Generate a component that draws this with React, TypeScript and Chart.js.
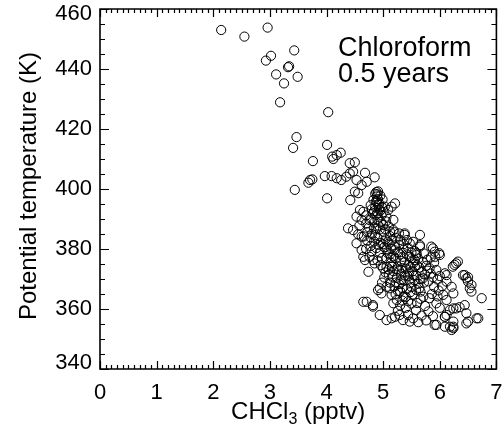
import { useEffect, useRef } from "react";
import { Chart, registerables } from "chart.js";

Chart.register(...registerables);

type P = [number, number];

const xRange = [0, 7];
const yRange = [340, 460];
const annotationLines = ["Chloroform", "0.5 years"];
const xTitleMain = "CHCl";
const xTitleSub = "3";
const xTitleTail = " (pptv)";
const yTitle = "Potential temperature (K)";

const upperPoints: P[] = [
  [2.14, 453.0], [2.55, 450.8], [2.96, 453.8], [3.02, 444.4], [2.93, 442.8], [3.43, 446.2],
  [3.32, 440.6], [3.34, 440.9], [3.11, 438.2], [3.49, 437.4], [3.25, 435.2], [3.18, 428.9],
  [4.03, 425.6], [3.47, 417.3], [3.41, 413.7], [3.44, 399.7], [4.01, 414.7], [4.10, 410.8],
  [4.18, 411.3], [4.25, 412.1], [4.12, 410.0], [3.76, 409.3], [3.71, 403.0], [3.75, 403.2],
  [3.68, 402.1], [3.97, 404.3], [4.09, 404.3], [4.18, 403.6], [4.26, 403.0], [4.35, 404.1],
  [4.41, 408.6], [4.50, 408.9], [4.41, 405.2], [4.47, 405.8], [4.53, 403.0], [4.68, 405.4],
  [4.71, 402.4], [4.85, 403.9], [4.62, 401.3], [4.01, 396.9], [4.42, 396.3],
];

const midPoints: P[] = [
  [4.50, 399.1], [4.56, 398.6], [4.88, 399.0], [4.90, 398.2], [4.89, 397.5], [4.91, 396.6],
  [4.87, 395.8], [4.92, 394.7], [4.86, 393.9], [4.95, 392.8], [4.80, 393.3], [4.59, 393.0],
  [4.65, 392.4], [4.53, 390.8], [4.62, 389.7], [4.38, 386.9], [4.47, 386.3], [4.79, 390.2],
  [4.82, 391.9], [5.03, 394.1], [5.09, 393.0], [5.06, 390.8], [5.18, 389.7], [5.18, 386.3],
  [5.38, 385.2], [5.15, 394.1], [5.21, 395.2], [4.70, 388.5], [4.75, 387.2], [4.84, 388.8],
  [4.90, 389.8], [4.97, 391.2], [5.00, 388.0], [4.94, 386.5], [4.72, 385.6], [4.66, 384.2],
  [4.80, 385.0], [4.88, 386.9], [5.10, 387.5], [5.02, 385.6], [5.12, 384.3], [4.58, 387.8],
  [4.56, 384.9], [4.99, 396.5], [5.01, 392.3], [4.83, 396.4], [4.78, 394.6],
  [4.91, 399.2], [4.89, 396.0], [4.93, 393.2], [4.88, 391.4], [4.96, 389.0], [5.04, 386.6],
  [4.95, 397.8], [4.86, 398.4], [4.93, 395.2], [4.84, 392.6], [4.98, 394.0], [4.90, 392.0],
  [5.05, 389.2], [4.76, 389.6], [4.70, 391.2], [4.92, 387.8], [5.12, 385.8], [4.84, 386.8],
];

const corePoints: P[] = [
  [4.62, 384.1], [4.53, 381.9], [4.62, 379.7], [4.65, 377.4], [4.68, 376.3], [4.74, 372.4],
  [4.76, 377.4], [4.82, 376.3], [4.85, 375.2], [5.00, 373.6], [4.72, 382.8], [4.78, 381.0],
  [4.84, 382.5], [4.90, 383.6], [4.96, 382.0], [5.04, 383.2], [4.70, 380.0], [4.80, 379.2],
  [4.88, 380.3], [4.94, 378.8], [5.02, 380.6], [5.10, 381.8], [5.16, 382.9], [5.22, 383.7],
  [5.28, 381.4], [5.20, 379.6], [5.12, 378.2], [5.06, 376.9], [4.98, 377.0], [4.90, 376.2],
  [4.96, 374.6], [5.06, 374.0], [5.14, 375.4], [5.22, 376.8], [5.30, 378.2], [5.36, 379.8],
  [5.35, 377.4], [5.26, 374.2], [5.18, 372.6], [5.10, 371.4], [5.02, 370.5], [5.24, 370.4],
  [5.32, 371.8], [5.40, 373.4], [5.47, 377.4], [5.50, 376.9], [5.59, 378.0], [5.56, 376.3],
  [5.53, 375.2], [5.59, 378.6], [5.45, 374.7], [5.52, 372.6], [5.44, 370.9], [5.36, 369.5],
  [5.28, 368.3], [5.20, 367.5], [5.58, 371.2], [5.64, 373.8], [5.70, 375.6], [5.78, 376.4],
  [5.66, 370.0], [5.74, 371.5], [5.82, 373.6], [5.94, 373.0], [6.09, 371.9], [5.65, 384.7],
  [5.38, 384.7], [5.53, 382.4], [5.65, 381.3], [5.88, 380.2], [5.99, 378.6], [5.47, 381.9],
  [5.65, 380.8], [5.85, 380.8], [6.00, 378.0], [5.91, 379.1], [5.42, 383.0], [5.56, 379.3],
  [5.72, 378.5], [5.84, 377.2], [5.90, 375.5], [5.80, 369.2], [5.88, 370.6], [5.96, 369.8],
  [5.62, 368.4], [5.50, 367.3], [5.42, 366.6], [5.12, 368.8], [5.06, 367.4], [5.30, 365.9],
  [5.08, 382.4], [5.14, 380.2], [5.18, 377.6], [5.26, 379.0], [5.32, 376.0], [5.24, 373.2],
  [5.38, 375.6], [5.46, 372.2], [5.34, 373.6], [5.16, 374.2], [5.08, 378.6], [5.00, 381.6],
  [4.86, 384.6], [4.92, 381.4], [5.28, 385.2], [5.20, 385.6], [5.44, 380.4], [5.50, 378.8],
  [5.56, 374.0], [5.62, 376.8], [5.68, 372.4], [5.76, 374.4], [5.72, 368.8], [5.84, 371.8],
  [5.55, 369.6], [5.48, 368.8], [5.34, 367.0], [5.26, 366.0], [5.16, 370.8], [5.04, 372.2],
  [4.98, 368.8], [5.06, 379.8], [5.14, 377.0], [5.20, 381.2], [5.30, 383.0], [5.36, 381.6],
  [5.42, 378.2], [5.28, 372.8], [5.38, 371.2], [5.48, 374.0], [5.54, 371.2], [5.60, 374.6],
  [5.70, 370.2], [5.78, 372.8], [5.64, 367.0], [5.46, 369.8], [5.32, 369.6], [5.22, 368.8],
  [5.10, 373.2], [6.04, 367.6], [6.00, 371.0], [5.92, 377.4], [4.78, 383.8],
];

const lowerPoints: P[] = [
  [4.71, 362.4], [4.82, 361.3], [4.94, 358.0], [5.06, 356.3], [4.91, 366.3], [4.97, 365.2],
  [4.94, 366.9], [5.12, 366.9], [5.15, 364.7], [5.24, 363.0], [5.18, 361.9], [5.15, 356.9],
  [5.21, 357.4], [5.29, 358.0], [5.35, 356.3], [5.47, 355.8], [5.44, 358.0], [5.53, 356.9],
  [4.65, 362.4], [4.82, 360.8], [6.06, 364.7], [6.12, 363.0], [5.94, 361.9], [5.82, 363.6],
  [5.71, 364.1], [5.91, 354.7], [6.09, 357.4], [6.18, 354.1], [6.24, 353.6], [6.47, 355.2],
  [6.65, 356.9], [6.18, 359.7], [6.24, 360.2], [6.29, 360.2], [6.35, 360.6], [6.44, 361.3],
  [6.47, 358.6], [6.68, 356.9], [6.50, 355.8], [5.94, 354.7], [6.09, 354.1], [6.21, 353.0],
  [6.24, 354.1], [6.24, 355.8], [6.12, 358.0], [6.09, 357.4], [6.24, 365.2], [6.21, 367.4],
  [6.12, 369.1], [6.12, 371.3], [5.36, 364.2], [5.44, 362.6], [5.52, 364.8], [5.60, 362.0],
  [5.66, 365.8], [5.74, 361.0], [5.40, 360.4], [5.58, 359.6], [5.68, 357.8], [5.80, 359.2],
  [5.30, 361.2], [5.62, 355.6], [5.76, 356.2], [5.26, 359.4], [5.88, 357.6], [6.00, 360.4],
  [5.98, 366.2], [5.90, 367.4], [5.40, 364.0], [5.48, 365.6], [5.58, 366.4], [5.22, 365.0],
  [5.34, 362.8], [5.50, 361.8], [5.66, 363.4], [5.86, 365.0], [5.96, 364.2],
];

const rightPoints: P[] = [
  [6.26, 374.7], [6.29, 375.2], [6.32, 375.8], [6.23, 374.1], [6.41, 371.3], [6.47, 370.2],
  [6.50, 369.1], [6.56, 368.0], [6.53, 366.9], [6.56, 365.8], [6.74, 363.6], [6.44, 371.3],
  [6.50, 370.6],
];

const FONT = "'Liberation Sans', Arial, Helvetica, sans-serif";

const edgeLabelPlugin = {
  id: "edgeLabels",
  beforeDraw(chart: any) {
    const ys = chart.scales.y;
    const items = ys.getLabelItems(chart.chartArea);
    items.forEach((it: any) => {
      if (it.label === String(yRange[1])) it.options.translation[1] += 5;
      if (it.label === String(yRange[0])) it.options.translation[1] -= 6;
    });
  },
};

const framePlugin = {
  id: "frameAndText",
  afterDraw(chart: any) {
    const { ctx, chartArea: a, scales } = chart;
    const xs = scales.x;
    const ys = scales.y;
    ctx.save();
    ctx.strokeStyle = "#000";
    ctx.lineWidth = 1.6;
    ctx.beginPath();
    ctx.rect(a.left, a.top, a.right - a.left, a.bottom - a.top);
    ctx.stroke();

    ctx.lineWidth = 1.2;
    ctx.beginPath();
    for (let i = 0; i <= 70; i++) {
      const px = Math.round(xs.getPixelForValue(i / 10)) + 0.5;
      const len = i % 10 === 0 ? 8 : 4;
      ctx.moveTo(px, a.bottom);
      ctx.lineTo(px, a.bottom - len);
      ctx.moveTo(px, a.top);
      ctx.lineTo(px, a.top + len);
    }
    for (let v = yRange[0]; v <= yRange[1]; v += 5) {
      const py = Math.round(ys.getPixelForValue(v)) + 0.5;
      const len = (v - yRange[0]) % 20 === 0 ? 9 : 5;
      ctx.moveTo(a.left, py);
      ctx.lineTo(a.left + len, py);
      ctx.moveTo(a.right, py);
      ctx.lineTo(a.right - len, py);
    }
    ctx.stroke();

    ctx.fillStyle = "#000";
    ctx.font = `27px ${FONT}`;
    ctx.textAlign = "left";
    ctx.textBaseline = "alphabetic";
    ctx.fillText(annotationLines[0], 338, 56);
    ctx.fillText(annotationLines[1], 338, 82);

    const mainFont = `24px ${FONT}`;
    const subFont = `16px ${FONT}`;
    ctx.font = mainFont;
    const w1 = ctx.measureText(xTitleMain).width;
    const w3 = ctx.measureText(xTitleTail).width;
    ctx.font = subFont;
    const w2 = ctx.measureText(xTitleSub).width;
    const total = w1 + w2 + w3;
    const x0 = (a.left + a.right) / 2 - total / 2;
    const base = 419;
    ctx.font = mainFont;
    ctx.fillText(xTitleMain, x0, base);
    ctx.font = subFont;
    ctx.fillText(xTitleSub, x0 + w1, base + 5);
    ctx.font = mainFont;
    ctx.fillText(xTitleTail, x0 + w1 + w2, base);

    ctx.translate(36, (a.top + a.bottom) / 2 - 3);
    ctx.rotate(-Math.PI / 2);
    ctx.textAlign = "center";
    ctx.font = mainFont;
    ctx.fillText(yTitle, 0, 0);
    ctx.restore();
  },
};

function zeroPad(s: any) {
  s.paddingTop = 0;
  s.paddingBottom = 0;
  s.paddingLeft = 0;
  s.paddingRight = 0;
}

export default function App() {
  const ref = useRef<HTMLCanvasElement | null>(null);
  useEffect(() => {
    if (!ref.current) return;
    const data = [...upperPoints, ...midPoints, ...corePoints, ...lowerPoints, ...rightPoints].map(
      ([x, y]) => ({ x, y })
    );
    const chart = new Chart(ref.current, {
      type: "scatter",
      data: {
        datasets: [
          {
            data,
            pointStyle: "circle",
            pointRadius: 4.6,
            pointBorderWidth: 1,
            pointBorderColor: "#000",
            pointBackgroundColor: "rgba(0,0,0,0)",
            borderColor: "#000",
            backgroundColor: "rgba(0,0,0,0)",
          },
        ],
      },
      options: {
        animation: false,
        responsive: false,
        layout: { padding: { top: 9, right: 5, left: 0, bottom: 0 } },
        plugins: { legend: { display: false }, tooltip: { enabled: false } },
        scales: {
          x: {
            type: "linear",
            min: xRange[0],
            max: xRange[1],
            afterFit: (s: any) => {
              s.height = 66;
              zeroPad(s);
            },
            grid: { display: false, drawTicks: false },
            border: { display: false },
            ticks: {
              stepSize: 1,
              color: "#000",
              font: { family: FONT, size: 22 },
              padding: 11,
              maxRotation: 0,
              autoSkip: false,
            },
          },
          y: {
            type: "linear",
            min: yRange[0],
            max: yRange[1],
            afterFit: (s: any) => {
              s.width = 100;
              zeroPad(s);
            },
            grid: { display: false, drawTicks: false },
            border: { display: false },
            ticks: {
              stepSize: 20,
              color: "#000",
              font: { family: FONT, size: 22 },
              padding: 8,
              autoSkip: false,
            },
          },
        },
      },
      plugins: [edgeLabelPlugin, framePlugin],
    });
    return () => chart.destroy();
  }, []);
  return (
    <div style={{ position: "fixed", left: 0, top: 0, width: 502, height: 435, background: "#fff" }}>
      <canvas ref={ref} width={502} height={435} style={{ display: "block" }} />
    </div>
  );
}
